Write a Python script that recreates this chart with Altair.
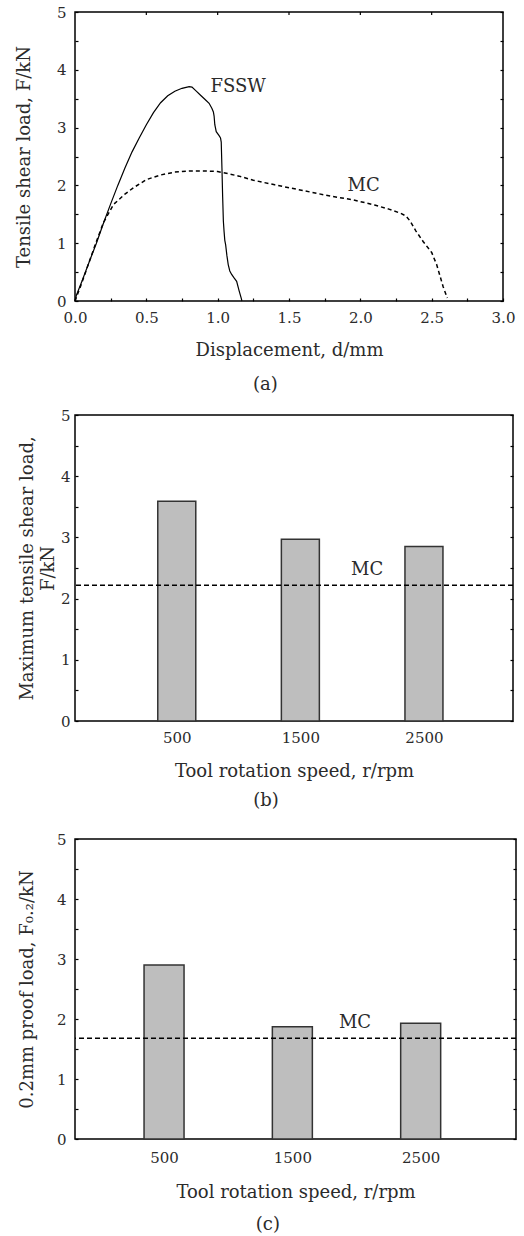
import altair as alt
import pandas as pd

# ---------------- data ----------------
# (a) load-displacement curves
fssw_disp = [0.0, 0.01, 0.05, 0.10, 0.15, 0.20, 0.25, 0.30, 0.35, 0.40, 0.45, 0.50,
             0.55, 0.60, 0.65, 0.70, 0.75, 0.80, 0.82, 0.85, 0.88, 0.91, 0.94, 0.96,
             0.97, 0.975, 0.98, 0.99, 1.01, 1.02, 1.025, 1.03, 1.035, 1.04, 1.045,
             1.05, 1.056, 1.065, 1.074, 1.085, 1.098, 1.115, 1.133, 1.15, 1.165, 1.17]
fssw_load = [0.0, 0.10, 0.35, 0.68, 1.00, 1.35, 1.68, 2.00, 2.30, 2.58, 2.82, 3.05,
             3.26, 3.43, 3.55, 3.63, 3.68, 3.71, 3.70, 3.63, 3.56, 3.49, 3.42, 3.33,
             3.27, 3.20, 3.05, 2.93, 2.86, 2.82, 2.75, 2.30, 1.80, 1.38, 1.20,
             1.05, 0.97, 0.78, 0.63, 0.52, 0.46, 0.40, 0.34, 0.18, 0.05, 0.0]
mc_disp = [0.0, 0.05, 0.10, 0.15, 0.20, 0.27, 0.35, 0.41, 0.50, 0.60, 0.70, 0.80,
           0.90, 1.00, 1.06, 1.15, 1.25, 1.40, 1.60, 1.80, 1.95, 2.10, 2.20, 2.28,
           2.32, 2.35, 2.39, 2.44, 2.50, 2.535, 2.56, 2.58, 2.61]
mc_load = [0.0, 0.33, 0.68, 1.03, 1.36, 1.67, 1.85, 1.96, 2.10, 2.18, 2.23, 2.25,
           2.25, 2.24, 2.21, 2.16, 2.09, 2.01, 1.91, 1.81, 1.75, 1.66, 1.59, 1.52,
           1.47, 1.38, 1.21, 1.03, 0.84, 0.63, 0.42, 0.25, 0.05]
curve_labels = ["FSSW", "MC"]
curve_label_disp = [0.95, 1.91]
curve_label_load = [3.70, 1.99]

# (b), (c) bar values
speeds = [500, 1500, 2500]
max_shear_load = [3.59, 2.97, 2.85]
proof_load = [2.90, 1.87, 1.93]
mc_max_shear = [2.22]
mc_proof = [1.68]
mc_label = ["MC"]
mc_label_speed_b = [2040]
mc_label_load_b = [2.47]
mc_label_speed_c = [1988]
mc_label_load_c = [1.93]

# tick values
y_ticks = [0, 0.5, 1, 1.5, 2, 2.5, 3, 3.5, 4, 4.5, 5]
xa_bottom_ticks = [0, 0.25, 0.5, 0.75, 1, 1.25, 1.5, 1.75, 2, 2.25, 2.5, 2.75, 3]
xa_top_ticks = [0.5, 1, 1.5, 2, 2.5]

FONT = "DejaVu Serif"
INK = "#2b2b2b"
FRAME = alt.ViewBackground(stroke="black", strokeWidth=1.5, fill="white")

y_scale = alt.Scale(domain=[0, 5], nice=False, zero=True)


def y_left(title, label_pad, title_pad):
    return alt.Axis(orient="left", values=y_ticks,
                    labelExpr="datum.value % 1 === 0 ? '' + datum.value : ''",
                    tickSize=3, offset=-3, domain=False, grid=False,
                    labelPadding=label_pad, labelOverlap=False,
                    title=title, titlePadding=title_pad, minExtent=0)


def y_right():
    return alt.Axis(orient="right", values=y_ticks, labels=False, tickSize=3,
                    offset=-3, domain=False, grid=False, title=None, minExtent=0)


def caption(txt, off):
    return alt.TitleParams(text=txt, orient="bottom", anchor="middle", frame="bounds",
                           fontSize=18, font=FONT, fontWeight="normal", color=INK,
                           offset=off)


# ---------------- panel (a) ----------------
fssw_df = pd.DataFrame({"disp": fssw_disp, "load": fssw_load})
mc_df = pd.DataFrame({"disp": mc_disp, "load": mc_load})
lab_a = pd.DataFrame({"disp": curve_label_disp, "load": curve_label_load, "label": curve_labels})
top_df = pd.DataFrame({"disp": xa_top_ticks})
xa_scale = alt.Scale(domain=[0, 3], nice=False, zero=False)

a_fssw = alt.Chart(fssw_df).mark_line(color="black", strokeWidth=1.2).encode(
    x=alt.X("disp:Q", scale=xa_scale,
            axis=alt.Axis(orient="bottom", values=xa_bottom_ticks,
                          labelExpr="(datum.value * 2) % 1 === 0 ? format(datum.value, '.1f') : ''",
                          tickSize=3, offset=-3, domain=False, grid=False,
                          labelPadding=9.5, labelFlush=False, labelOverlap=False,
                          title="Displacement, d/mm", titlePadding=15.5, minExtent=0)),
    y=alt.Y("load:Q", scale=y_scale, axis=y_left("Tensile shear load, F/kN", 9, 22.5)),
)
a_mc = alt.Chart(mc_df).mark_line(color="black", strokeWidth=1.5, strokeDash=[4, 3]).encode(
    x=alt.X("disp:Q", scale=xa_scale, axis=None),
    y=alt.Y("load:Q", scale=y_scale, axis=y_right()),
)
# inward tick marks along the top edge, placed by the x scale
a_top = alt.Chart(top_df).mark_rule(color="black", strokeWidth=1.2).encode(
    x=alt.X("disp:Q", scale=xa_scale, axis=None),
    y=alt.value(0), y2=alt.value(3),
)
a_text = alt.Chart(lab_a).mark_text(align="left", baseline="middle", fontSize=18,
                                    font=FONT, color=INK).encode(
    x=alt.X("disp:Q", scale=xa_scale, axis=None),
    y=alt.Y("load:Q", scale=y_scale, axis=None),
    text="label:N",
)
panel_a = alt.layer(a_fssw, a_mc, a_top, a_text, view=FRAME).resolve_axis(
    x="independent", y="independent").properties(width=428, height=289,
                                                 title=caption("(a)", 17))


# ---------------- bar panels ----------------
def bar_panel(values, mc_value, lab_speed, lab_load, y_title, dom, width, height,
              bar_size, ylab_pad, ytitle_pad, xlab_pad, xtitle_pad, cap, cap_off):
    xs = alt.Scale(domain=dom, nice=False, zero=False)
    df = pd.DataFrame({"speed": speeds, "load": values})
    bars = alt.Chart(df).mark_bar(size=bar_size, fill="#bebebe", stroke="#333333",
                                  strokeWidth=1.5).encode(
        x=alt.X("speed:Q", scale=xs,
                axis=alt.Axis(orient="bottom", values=speeds, format="d", ticks=False,
                              tickSize=0, domain=False, grid=False, labelPadding=xlab_pad,
                              labelFlush=False, labelOverlap=False,
                              title="Tool rotation speed, r/rpm", titlePadding=xtitle_pad,
                              minExtent=0)),
        y=alt.Y("load:Q", scale=y_scale, axis=y_left(y_title, ylab_pad, ytitle_pad)),
    )
    mc_line = alt.Chart(pd.DataFrame({"mc": mc_value})).mark_rule(
        color="black", strokeWidth=1.5, strokeDash=[5, 3]).encode(
        y=alt.Y("mc:Q", scale=y_scale, axis=y_right()))
    txt = alt.Chart(pd.DataFrame({"speed": lab_speed, "load": lab_load, "label": mc_label})).mark_text(
        align="center", baseline="middle", fontSize=18, font=FONT, color=INK).encode(
        x=alt.X("speed:Q", scale=xs, axis=None),
        y=alt.Y("load:Q", scale=y_scale, axis=None),
        text="label:N",
    )
    return alt.layer(bars, mc_line, txt, view=FRAME).resolve_axis(
        x="independent", y="independent").properties(width=width, height=height,
                                                     title=caption(cap, cap_off))


# all panels share one left plot edge; the bar panels' x domains keep the bars in place
panel_b = bar_panel(max_shear_load, mc_max_shear, mc_label_speed_b, mc_label_load_b,
                    ["Maximum tensile shear  load,", "F/kN"], [-283, 3180], 438, 306, 38,
                    5, 3, 9.5, 16.5, "(b)", 12)
panel_c = bar_panel(proof_load, mc_proof, mc_label_speed_c, mc_label_load_c,
                    "0.2mm proof load, F\u2080.\u2082/kN", [-155, 3204], 441, 300, 40,
                    9, 19.5, 11.5, 17.5, "(c)", 15)

lower_pair = alt.concat(panel_b, panel_c, columns=1, spacing=20, align="none")
chart = alt.concat(panel_a, lower_pair, columns=1, spacing=12, align="none").properties(
    padding={"left": 15, "top": 4, "right": 0, "bottom": 0}
).configure_view(
    stroke="black", strokeWidth=1.5
).configure_axis(
    labelFont=FONT, labelFontSize=15, labelColor=INK,
    titleFont=FONT, titleFontSize=18, titleColor=INK, titleFontWeight="normal",
    titleLineHeight=21, tickColor="black", tickWidth=1.2
).configure_text(font=FONT)

chart.save("out.html", embed_options={"renderer": "svg", "actions": False})
